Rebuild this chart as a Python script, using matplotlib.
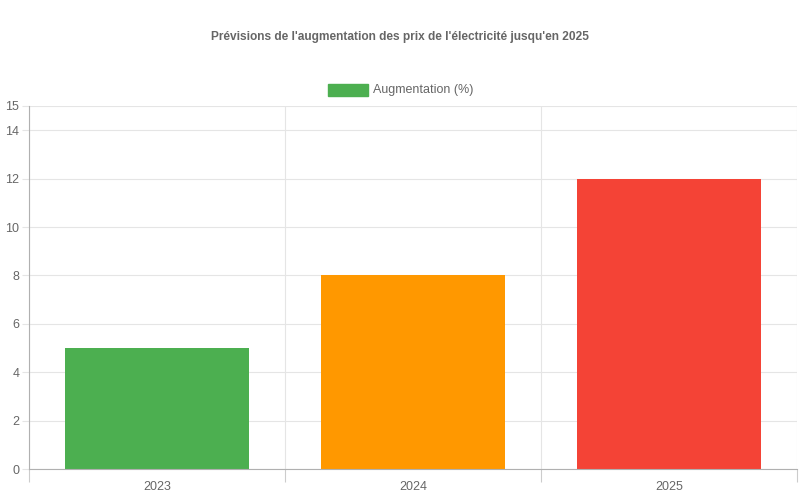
import numpy as np
import matplotlib.pyplot as plt

years = ['2023', '2024', '2025']
augmentation = [5, 8, 12]
bar_colors = ['#4caf50', '#ff9800', '#f44336']
y_ticks = [0, 2, 4, 6, 8, 10, 12, 14, 15]

plt.rcParams['font.family'] = ['Liberation Sans', 'DejaVu Sans']

fig = plt.figure(figsize=(8, 5), dpi=100)
ax = fig.add_axes([29 / 800, 31 / 500, 768 / 800, 363 / 500])

x = np.arange(len(years))
ax.bar(x, augmentation, width=0.72, color=bar_colors, zorder=2)

ax.set_xlim(-0.5, len(years) - 0.5)
ax.set_ylim(0, 15)
ax.set_yticks(y_ticks)
ax.set_xticks(x)
ax.set_xticklabels(years)
ax.set_xticks(np.arange(len(years) + 1) - 0.5, minor=True)

ax.grid(axis='y', color='#e5e5e5', linewidth=0.8, zorder=0)
ax.grid(axis='x', which='minor', color='#e5e5e5', linewidth=0.8, zorder=0)
ax.tick_params(axis='x', which='major', length=0, pad=9, labelsize=9, labelcolor='#666666')
ax.tick_params(axis='x', which='minor', length=9, color='#cccccc', width=0.8)
ax.tick_params(axis='y', length=5, color='#e5e5e5', width=0.8, pad=2, labelsize=9,
               labelcolor='#666666')

for side in ['top', 'right']:
    ax.spines[side].set_visible(False)
for side in ['left', 'bottom']:
    ax.spines[side].set_color('#b0b0b0')
    ax.spines[side].set_linewidth(0.8)

fig.text(0.5, 1 - 37 / 500, "Prévisions de l'augmentation des prix de l'électricité jusqu'en 2025",
         ha='center', va='center', fontsize=8.6, fontweight='bold', color='#666666')

# legend
fig.patches.append(plt.Rectangle((328 / 800, 1 - 96 / 500), 40 / 800, 12 / 500,
                                 transform=fig.transFigure, color=bar_colors[0]))
fig.text(373 / 800, 1 - 90 / 500, 'Augmentation (%)', ha='left', va='center',
         fontsize=9, color='#666666')

fig.savefig('out.png', dpi=100)
